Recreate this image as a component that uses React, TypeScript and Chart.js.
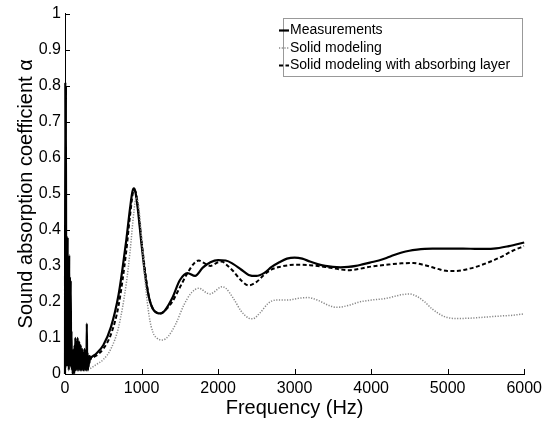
import React, { useEffect, useRef } from "react";
import { Chart, registerables } from "chart.js";

Chart.register(...registerables);

const legendLabels = ["Measurements", "Solid modeling", "Solid modeling with absorbing layer"];
const xTitle = "Frequency (Hz)";
const yTitle = "Sound absorption coefficient \u03B1";
const xTickLabels = ["0", "1000", "2000", "3000", "4000", "5000", "6000"];
const yTickLabels = ["0", "0.1", "0.2", "0.3", "0.4", "0.5", "0.6", "0.7", "0.8", "0.9", "1"];

// Measurements (noisy at low frequency, then smooth)
const measFreq = [
  0, 4, 8, 12, 16, 20, 25, 30, 35, 40, 45, 50, 55, 60, 65, 70, 75, 80, 85, 90, 95,
  100, 105, 110, 115, 120, 125, 130, 135, 140, 145, 150, 155, 160, 165, 170, 175, 180, 185, 190, 195,
  200, 205, 210, 215, 220, 225, 230, 235, 240, 245, 250, 255, 260, 265, 270, 275, 280, 285, 290, 295,
  300, 305, 310, 315, 320, 325, 330,
  340, 400, 500, 600, 700, 750, 800, 850, 880, 900, 920, 950, 1000, 1050, 1100, 1150, 1200, 1250, 1300,
  1400, 1500, 1600, 1700, 1800, 1900, 2000, 2100, 2200, 2300, 2400, 2500, 2600, 2700, 2800, 2900, 3000,
  3100, 3200, 3300, 3400, 3500, 3600, 3700, 3800, 3900, 4000, 4100, 4200, 4300, 4400, 4500, 4600, 4700,
  4800, 5000, 5200, 5400, 5600, 5800, 6000,
];
const measValues = [
  0.0, 0.81, 0.05, 0.8, 0.02, 0.3, 0.28, 0.03, 0.38, 0.02, 0.29, 0.01, 0.33, 0.04, 0.27, 0.02, 0.26, 0.03, 0.12, 0.01, 0.06,
  0.0, 0.05, 0.02, 0.07, 0.0, 0.08, 0.02, 0.1, 0.01, 0.06, 0.03, 0.09, 0.01, 0.1, 0.02, 0.07, 0.01, 0.09, 0.02, 0.06,
  0.01, 0.08, 0.02, 0.05, 0.01, 0.07, 0.02, 0.06, 0.01, 0.05, 0.02, 0.07, 0.01, 0.06, 0.02, 0.05, 0.01, 0.14, 0.02, 0.06,
  0.01, 0.05, 0.02, 0.05, 0.03, 0.05, 0.04,
  0.045, 0.055, 0.08, 0.13, 0.22, 0.29, 0.37, 0.46, 0.505, 0.515, 0.505, 0.46, 0.36, 0.27, 0.21, 0.18, 0.17, 0.168, 0.175,
  0.21, 0.26, 0.28, 0.272, 0.295, 0.31, 0.316, 0.315, 0.305, 0.29, 0.275, 0.272, 0.28, 0.297, 0.31, 0.32, 0.323,
  0.32, 0.312, 0.305, 0.3, 0.297, 0.296, 0.297, 0.3, 0.305, 0.31, 0.315, 0.322, 0.33, 0.337, 0.342, 0.345, 0.347,
  0.348, 0.348, 0.348, 0.347, 0.348, 0.355, 0.365,
];

// Solid modeling (dotted)
const solidFreq = [
  330, 400, 500, 600, 700, 800, 850, 900, 930, 960, 1000, 1050, 1100, 1150, 1200, 1270, 1350, 1450, 1550,
  1650, 1750, 1850, 1900, 1950, 2050, 2100, 2200, 2300, 2400, 2450, 2550, 2650, 2750, 2900, 3050, 3175,
  3300, 3450, 3550, 3700, 3850, 4000, 4200, 4400, 4500, 4600, 4700, 4800, 4950, 5100, 5300, 5500, 5700, 5850, 6000,
];
const solidValues = [
  0.015, 0.025, 0.04, 0.07, 0.13, 0.25, 0.34, 0.45, 0.49, 0.47, 0.38, 0.25, 0.16, 0.115, 0.1, 0.094, 0.105, 0.14, 0.19,
  0.225, 0.238, 0.225, 0.222, 0.228, 0.242, 0.238, 0.21, 0.175, 0.155, 0.153, 0.17, 0.195, 0.205, 0.205, 0.21, 0.212,
  0.205, 0.19, 0.185, 0.19, 0.2, 0.205, 0.21, 0.22, 0.222, 0.215, 0.2, 0.18, 0.16, 0.154, 0.155, 0.158, 0.161, 0.163, 0.167,
];

// Solid modeling with absorbing layer (dashed)
const layerFreq = [
  300, 400, 500, 600, 700, 800, 850, 900, 930, 970, 1000, 1050, 1100, 1150, 1200, 1250, 1300, 1400, 1500,
  1600, 1700, 1750, 1800, 1900, 2000, 2050, 2100, 2200, 2300, 2400, 2500, 2600, 2700, 2800, 3000, 3200,
  3400, 3600, 3700, 3800, 4000, 4200, 4400, 4550, 4700, 4900, 5000, 5100, 5300, 5500, 5700, 5850, 6000,
];
const layerValues = [
  0.04, 0.05, 0.07, 0.11, 0.19, 0.34, 0.44, 0.51, 0.5, 0.43, 0.37, 0.28, 0.21, 0.18, 0.17, 0.168, 0.175, 0.2, 0.24,
  0.28, 0.31, 0.315, 0.31, 0.3, 0.31, 0.312, 0.305, 0.285, 0.26, 0.246, 0.255, 0.275, 0.29, 0.297, 0.303, 0.302,
  0.297, 0.29, 0.288, 0.29, 0.298, 0.303, 0.307, 0.308, 0.302, 0.29, 0.286, 0.286, 0.293, 0.307, 0.325, 0.342, 0.355,
];

const FONT = "'Liberation Sans', Arial, Helvetica, sans-serif";

const toPoints = (xs: number[], ys: number[]) => xs.map((x, i) => ({ x, y: ys[i] }));

const decorPlugin = {
  id: "decor",
  afterDraw(chart: any) {
    const ctx = chart.ctx as CanvasRenderingContext2D;
    const xs = chart.scales.x;
    const ys = chart.scales.y;
    const area = chart.chartArea;
    ctx.save();
    // inward ticks
    ctx.strokeStyle = "#000";
    ctx.lineWidth = 1;
    ctx.beginPath();
    ys.ticks.forEach((_t: any, i: number) => {
      const py = Math.round(ys.getPixelForTick(i)) + 0.5;
      ctx.moveTo(area.left, py);
      ctx.lineTo(area.left + 5, py);
    });
    xs.ticks.forEach((_t: any, i: number) => {
      const px = Math.round(xs.getPixelForTick(i)) + 0.5;
      ctx.moveTo(px, area.bottom);
      ctx.lineTo(px, area.bottom - 5);
    });
    ctx.stroke();

    // axis titles
    ctx.fillStyle = "#000";
    ctx.font = `20px ${FONT}`;
    ctx.textAlign = "center";
    ctx.textBaseline = "alphabetic";
    ctx.fillText(xTitle, (area.left + area.right) / 2, 414);
    ctx.save();
    ctx.translate(31.5, (area.top + area.bottom) / 2);
    ctx.rotate(-Math.PI / 2);
    ctx.fillText(yTitle, 0, 0);
    ctx.restore();

    // legend
    const bx = 283.5, by = 18.5, bw = 239, bh = 58;
    ctx.fillStyle = "#fff";
    ctx.fillRect(bx, by, bw, bh);
    ctx.strokeStyle = "#999";
    ctx.lineWidth = 1;
    ctx.strokeRect(bx, by, bw, bh);
    const rows = [30.5, 48, 65.5];
    const styles = [
      { color: "#000", width: 2.2, dash: [] as number[] },
      { color: "#888", width: 1.5, dash: [1.2, 1.5] },
      { color: "#000", width: 2, dash: [4, 2.5] },
    ];
    ctx.font = `14px ${FONT}`;
    ctx.textAlign = "left";
    ctx.textBaseline = "middle";
    rows.forEach((ry, i) => {
      const s = styles[i];
      ctx.strokeStyle = s.color;
      ctx.lineWidth = s.width;
      ctx.setLineDash(s.dash);
      ctx.beginPath();
      ctx.moveTo(279, ry);
      ctx.lineTo(289, ry);
      ctx.stroke();
      ctx.setLineDash([]);
      ctx.fillStyle = "#000";
      ctx.fillText(legendLabels[i], 290, ry);
    });
    ctx.restore();
  },
};

export default function App() {
  const canvasRef = useRef<HTMLCanvasElement | null>(null);

  useEffect(() => {
    if (!canvasRef.current) return;
    const chart = new Chart(canvasRef.current, {
      type: "line",
      data: {
        datasets: [
          {
            label: legendLabels[1],
            data: toPoints(solidFreq, solidValues),
            borderColor: "#888",
            borderWidth: 1.5,
            borderDash: [1.2, 1.5],
            pointRadius: 0,
            cubicInterpolationMode: "monotone",
            fill: false,
          },
          {
            label: legendLabels[2],
            data: toPoints(layerFreq, layerValues),
            borderColor: "#000",
            borderWidth: 2,
            borderDash: [4, 2.5],
            pointRadius: 0,
            cubicInterpolationMode: "monotone",
            fill: false,
          },
          {
            label: legendLabels[0],
            data: toPoints(measFreq, measValues),
            borderColor: "#000",
            borderWidth: 2.2,
            borderJoinStyle: "round",
            pointRadius: 0,
            cubicInterpolationMode: "monotone",
            fill: false,
            clip: 4,
          },
        ],
      },
      options: {
        responsive: false,
        animation: false,
        devicePixelRatio: 1,
        layout: { padding: { top: 13, right: 19, left: 0, bottom: 0 } },
        plugins: { legend: { display: false }, tooltip: { enabled: false } },
        scales: {
          x: {
            type: "linear",
            min: 0,
            max: 6000,
            grid: { display: false, drawTicks: false },
            border: { display: true, color: "#000", width: 1 },
            ticks: {
              stepSize: 1000,
              padding: 5,
              maxRotation: 0,
              color: "#000",
              font: { family: FONT, size: 16 },
              callback: (_v: any, i: number) => xTickLabels[i],
            },
            afterFit: (s: any) => {
              s.height = 48;
            },
          },
          y: {
            type: "linear",
            min: 0,
            max: 1,
            grid: { display: false, drawTicks: false },
            border: { display: true, color: "#000", width: 1 },
            ticks: {
              stepSize: 0.1,
              padding: 4,
              color: "#000",
              font: { family: FONT, size: 16 },
              callback: (_v: any, i: number) => yTickLabels[i],
            },
            afterFit: (s: any) => {
              s.width = 65;
            },
          },
        },
      },
      plugins: [decorPlugin],
    });
    return () => chart.destroy();
  }, []);

  return (
    <div style={{ position: "absolute", left: 0, top: 0, width: 547, height: 422, background: "#fff" }}>
      <canvas ref={canvasRef} width={547} height={422} style={{ display: "block", width: 547, height: 422 }} />
    </div>
  );
}
